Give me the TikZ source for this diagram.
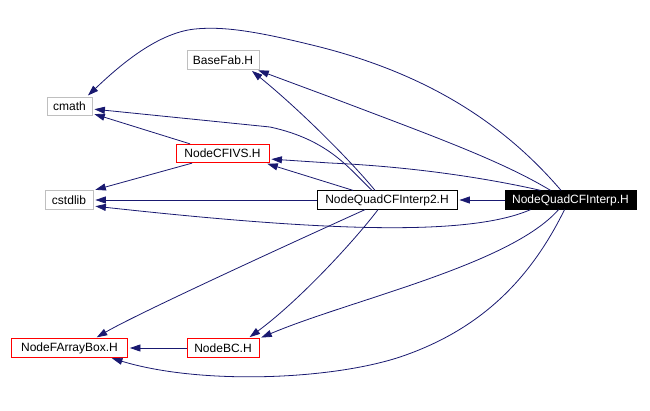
\documentclass[tikz,border=0pt]{standalone}
\usepackage{fontspec}
\setmainfont{Liberation Sans}
\usetikzlibrary{positioning,arrows.meta}
\definecolor{midnight}{RGB}{25,25,112}

\begin{document}
\begin{tikzpicture}[
    x=1pt, y=-1pt,
    font=\fontsize{12}{14}\selectfont,
    file/.style={draw, line width=0.8pt, inner xsep=6pt, inner ysep=0pt,
                 minimum height=18.5pt},
    sysfile/.style={file, black!25, text=black},
    docfile/.style={file, red, text=black},
    plainfile/.style={file, black},
    rootfile/.style={file, fill=black, text=white},
    dep/.style={-{Triangle[length=10.5pt, width=7pt]}, midnight, line width=0.8pt,
                shorten >=2pt},
  ]
  \useasboundingbox (0,0) rectangle (650,410);

  % ---------- headers ----------
  \node[sysfile, minimum width=72pt]  (basefab)   at (223,60)    {BaseFab.H};
  \node[sysfile, minimum width=45pt]  (cmath)     at (69.5,106.5) {cmath};
  \node[docfile, minimum width=93pt]  (cfivs)     at (222.5,153.5) {NodeCFIVS.H};
  \node[sysfile, minimum width=48pt]  (cstdlib)   at (69,200)    {cstdlib};
  \node[plainfile, minimum width=140pt] (interptwo) at (387,200) {NodeQuadCFInterp2.H};
  \node[rootfile, minimum width=131pt] (interp)   at (570.5,200) {NodeQuadCFInterp.H};
  \node[docfile, minimum width=116pt] (farray)    at (69.5,348)  {NodeFArrayBox.H};
  \node[docfile, minimum width=72pt]  (nodebc)    at (223,348)   {NodeBC.H};

  % ---------- includes of NodeQuadCFInterp.H ----------
  \draw[dep] (interp.west) -- (interptwo.east);
  \draw[dep] ([xshift=-9.5pt]interp.north)
    .. controls (505,125) and (430,75) .. (320,47)
    .. controls (260,32) and (225,26) .. (195,29)
    .. controls (155,33) and (115,70) .. ([xshift=17pt]cmath.north);
  \draw[dep] ([xshift=-20pt]interp.north)
    .. controls (500,160) and (430,135) .. (330,97)
    -- ([xshift=-3pt]basefab.south east);
  \draw[dep] ([xshift=-30pt]interp.north)
    .. controls (495,180) and (420,167) .. (330,163)
    -- ([yshift=-5.5pt]cfivs.east);
  \draw[dep] ([xshift=-40pt]interp.south)
    .. controls (470,236) and (330,232) .. ([yshift=-6pt]cstdlib.east);
  \draw[dep] ([xshift=-12pt]interp.south)
    .. controls (510,265) and (350,300) .. (nodebc.north east);
  \draw[dep] ([xshift=-6pt]interp.south)
    .. controls (530,280) and (480,330) .. (400,357)
    .. controls (330,380) and (200,385) .. ([xshift=40.5pt]farray.south);

  % ---------- includes of NodeQuadCFInterp2.H ----------
  \draw[dep] ([xshift=-12pt]interptwo.north)
    .. controls (350,160) and (300,110) .. ([xshift=-9pt]basefab.south east);
  \draw[dep] ([xshift=-15pt]interptwo.north)
    .. controls (350,170) and (330,140) .. (270,127)
    -- ([yshift=-2.5pt]cmath.east);
  \draw[dep] ([xshift=-34pt]interptwo.north) -- ([xshift=-4pt]cfivs.south east);
  \draw[dep] (interptwo.west) -- (cstdlib.east);
  \draw[dep] ([xshift=-22pt]interptwo.south)
    .. controls (320,230) and (140,312) .. ([xshift=25.5pt]farray.north);
  \draw[dep] ([xshift=-9pt]interptwo.south)
    .. controls (355,240) and (300,300) .. ([xshift=25pt]nodebc.north);

  % ---------- the rest ----------
  \draw[dep] ([xshift=-32.5pt]cfivs.north) -- ([yshift=-7pt]cmath.east);
  \draw[dep] ([xshift=-30.5pt]cfivs.south) -- (cstdlib.north east);
  \draw[dep] (nodebc.west) -- (farray.east);

\end{tikzpicture}
\end{document}
